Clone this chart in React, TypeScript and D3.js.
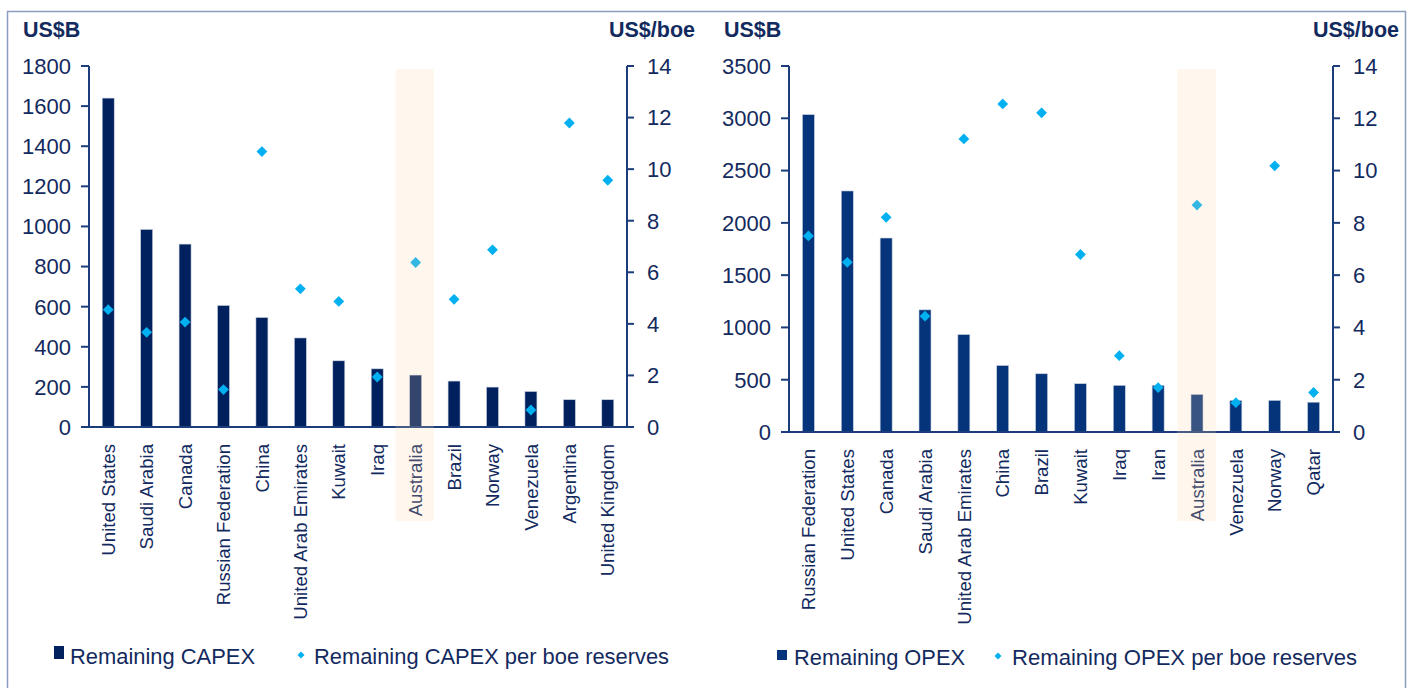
import React from "react";
import * as d3 from "d3";

const capexCountries = ["United States", "Saudi Arabia", "Canada", "Russian Federation", "China", "United Arab Emirates", "Kuwait", "Iraq", "Australia", "Brazil", "Norway", "Venezuela", "Argentina", "United Kingdom"];
const capexValues = [1640, 985, 912, 606, 546, 444, 330, 290, 259, 229, 199, 177, 136, 136];
const capexPerBoe = [4.55, 3.67, 4.07, 1.45, 10.68, 5.36, 4.87, 1.94, 6.38, 4.95, 6.87, 0.66, 11.79, 9.57];

const opexCountries = ["Russian Federation", "United States", "Canada", "Saudi Arabia", "United Arab Emirates", "China", "Brazil", "Kuwait", "Iraq", "Iran", "Australia", "Venezuela", "Norway", "Qatar"];
const opexValues = [3035, 2305, 1855, 1168, 932, 636, 557, 462, 446, 446, 360, 302, 302, 285];
const opexPerBoe = [7.5, 6.49, 8.21, 4.43, 11.21, 12.55, 12.21, 6.79, 2.92, 1.7, 8.68, 1.12, 10.18, 1.51];

const capexTicks = [0, 200, 400, 600, 800, 1000, 1200, 1400, 1600, 1800];
const opexTicks = [0, 500, 1000, 1500, 2000, 2500, 3000, 3500];
const boeTicks = [0, 2, 4, 6, 8, 10, 12, 14];

const highlight = "Australia";
const FONT = "'Liberation Sans', Arial, sans-serif";
const TEXT = "#132a5e";
const AXIS = "#1b3d7c";
const DIAMOND = "#00b0f0";

type PanelProps = {
  x0: number; x1: number; yTop: number; yZero: number;
  cats: string[]; vals: number[]; per: number[]; ticks: number[]; maxL: number;
  barColor: string; legendBar: string; legendDia: string;
  leftTitleX: number; rightTitleX: number;
  legSq: [number, number, number, number]; legText1X: number; legText1W: number;
  legDiaX: number; legText2X: number; legText2W: number; legY: number; hlShift: number;
};

function diamond(cx: number, cy: number, r: number) {
  return `M${cx},${cy - r}L${cx + r},${cy}L${cx},${cy + r}L${cx - r},${cy}Z`;
}

function Panel(p: PanelProps) {
  const x = d3.scaleBand<string>().domain(p.cats).range([p.x0, p.x1]).padding(0);
  const yL = d3.scaleLinear().domain([0, p.maxL]).range([p.yZero, p.yTop]);
  const yR = d3.scaleLinear().domain([0, 14]).range([p.yZero, p.yTop]);
  const bw = 12;
  const hx = x(highlight)!;
  return (
    <g>
      {p.vals.map((v, i) => {
        const cx = x(p.cats[i])! + x.bandwidth() / 2;
        return <rect key={"b" + i} x={cx - bw / 2} y={yL(v)} width={bw} height={yL(0) - yL(v)} fill={p.barColor} stroke="#c8d0e0" strokeWidth={0.6} />;
      })}
      {p.per.map((v, i) => {
        const cx = x(p.cats[i])! + x.bandwidth() / 2;
        return <path key={"d" + i} d={diamond(cx, yR(v), 5.4)} fill={DIAMOND} />;
      })}
      <line x1={p.x0} x2={p.x0} y1={yL(p.maxL)} y2={yL(0)} stroke={AXIS} strokeWidth={2} />
      {p.ticks.map((t) => (
        <g key={"lt" + t}>
          <line x1={p.x0 - 8} x2={p.x0} y1={yL(t)} y2={yL(t)} stroke={AXIS} strokeWidth={2} />
          <text x={p.x0 - 18} y={yL(t)} dy="0.36em" textAnchor="end" fontSize={22} fill={TEXT} fontFamily={FONT}>{t}</text>
        </g>
      ))}
      <line x1={p.x1} x2={p.x1} y1={yR(14)} y2={yR(0)} stroke={AXIS} strokeWidth={2} />
      {boeTicks.map((t) => (
        <g key={"rt" + t}>
          <line x1={p.x1} x2={p.x1 + 7} y1={yR(t)} y2={yR(t)} stroke={AXIS} strokeWidth={2} />
          <text x={p.x1 + 20} y={yR(t)} dy="0.36em" textAnchor="start" fontSize={22} fill={TEXT} fontFamily={FONT}>{t}</text>
        </g>
      ))}
      <line x1={p.x0} x2={p.x1} y1={p.yZero} y2={p.yZero} stroke={AXIS} strokeWidth={2} />
      {p.cats.map((c) => {
        const cx = x(c)! + x.bandwidth() / 2;
        return (
          <text key={"c" + c} transform={`translate(${cx},${p.yZero + 17}) rotate(-90)`} dy="0.36em" textAnchor="end" fontSize={18.6} fill={TEXT} fontFamily={FONT}>{c}</text>
        );
      })}
      <text x={p.leftTitleX} y={37} fontSize={21.5} fontWeight="bold" fill={TEXT} fontFamily={FONT}>US$B</text>
      <text x={p.rightTitleX} y={37} textAnchor="end" fontSize={21.5} fontWeight="bold" fill={TEXT} fontFamily={FONT}>US$/boe</text>
      <rect x={hx + p.hlShift} y={69} width={x.bandwidth()} height={452} fill="rgb(255,213,168)" opacity={0.2} />
      <rect x={p.legSq[0]} y={p.legSq[1]} width={p.legSq[2]} height={p.legSq[3]} fill={p.barColor} />
      <text x={p.legText1X} y={p.legY} fontSize={22} fill={TEXT} fontFamily={FONT} textLength={p.legText1W} lengthAdjust="spacingAndGlyphs">{p.legendBar}</text>
      <path d={diamond(p.legDiaX, p.legY - 9, 3.5)} fill={DIAMOND} />
      <text x={p.legText2X} y={p.legY} fontSize={22} fill={TEXT} fontFamily={FONT} textLength={p.legText2W} lengthAdjust="spacingAndGlyphs">{p.legendDia}</text>
    </g>
  );
}

export default function App() {
  return (
    <svg width={1411} height={688} style={{ position: "absolute", left: 0, top: 0, display: "block", background: "#fff" }}>
      <rect x={7.5} y={11.5} width={1398} height={700} fill="#fff" stroke="#8a9dc0" strokeWidth={1.5} />
      <Panel
        x0={89} x1={627} yTop={66} yZero={427}
        cats={capexCountries} vals={capexValues} per={capexPerBoe} ticks={capexTicks} maxL={1800}
        barColor="#00205e" legendBar="Remaining CAPEX" legendDia="Remaining CAPEX per boe reserves"
        leftTitleX={23} rightTitleX={695}
        legSq={[54, 646, 10, 13]} legText1X={70} legText1W={185}
        legDiaX={301} legText2X={314} legText2W={355} legY={664} hlShift={-1}
      />
      <Panel
        x0={789} x1={1333} yTop={66} yZero={432}
        cats={opexCountries} vals={opexValues} per={opexPerBoe} ticks={opexTicks} maxL={3500}
        barColor="#06347a" legendBar="Remaining OPEX" legendDia="Remaining OPEX per boe reserves"
        leftTitleX={724} rightTitleX={1399}
        legSq={[777, 650, 10, 10]} legText1X={794} legText1W={171}
        legDiaX={998} legText2X={1012} legText2W={345} legY={665} hlShift={-0.5}
      />
    </svg>
  );
}
